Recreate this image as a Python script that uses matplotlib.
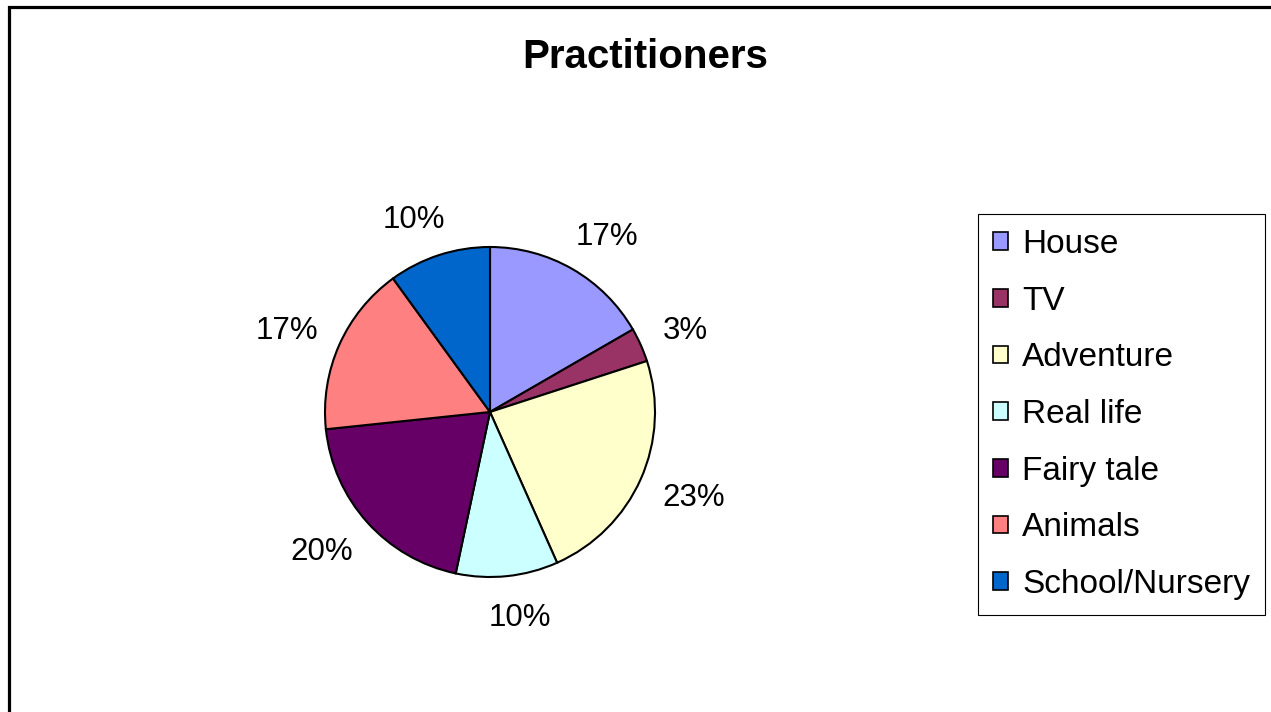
import numpy as np
import matplotlib
matplotlib.use('Agg')
import matplotlib.pyplot as plt
import matplotlib.patches as mpatches

plt.rcParams['font.family'] = ['Liberation Sans', 'DejaVu Sans']

# answers per story theme (30 practitioners)
themes = ['House', 'TV', 'Adventure', 'Real life', 'Fairy tale', 'Animals', 'School/Nursery']
counts = [5, 1, 7, 3, 6, 5, 3]
colours = ['#9999FF', '#993366', '#FFFFCC', '#CCFFFF', '#660066', '#FF8080', '#0066CC']

W, H = 1271, 712
fig = plt.figure(figsize=(W / 100, H / 100), dpi=100)

# outer chart frame
frame = mpatches.Rectangle((9 / W, -0.1), 1.2, 1 - 7 / H + 0.1, transform=fig.transFigure,
                           fill=False, edgecolor='black', linewidth=2.3, clip_on=False)
fig.patches.append(frame)

fig.text(645 / W, 1 - 68 / H, 'Practitioners', ha='center', va='baseline',
         fontsize=29, fontweight='bold')

r = 165
cx, cy = 490, 412
ax = fig.add_axes([(cx - r) / W, (H - cy - r) / H, 2 * r / W, 2 * r / H])
wedges, texts, autotexts = ax.pie(counts, colors=colours, startangle=90, counterclock=False,
                                  autopct='%1.0f%%', pctdistance=1.2,
                                  wedgeprops=dict(edgecolor='black', linewidth=1.5),
                                  textprops=dict(fontsize=22.5))
ax.set_xlim(-1, 1)
ax.set_ylim(-1, 1)
ax.set_aspect('equal')
ax.axis('off')

# push each percentage out so its box sits just beyond the rim
renderer = fig.canvas.get_renderer()
gap = 190 / r
for w, t in zip(wedges, autotexts):
    ang = np.deg2rad((w.theta1 + w.theta2) / 2)
    c, s = np.cos(ang), np.sin(ang)
    bb = t.get_window_extent(renderer)
    tw, th = bb.width / r, bb.height / r
    t.set_position((gap * c + tw / 2 * np.sign(c) * np.sqrt(abs(c)),
                    gap * s + th / 2 * s - 2.5 / r))
    t.set_ha('center')
    t.set_va('center')

leg = fig.legend(wedges, themes, loc='upper left',
                 bbox_to_anchor=(978 / W, 1 - 214 / H), fontsize=24,
                 frameon=True, fancybox=False, edgecolor='black', framealpha=1,
                 handlelength=0.45, handleheight=0.45, handletextpad=0.42,
                 labelspacing=0.77, borderpad=0.45, borderaxespad=0)
leg.get_frame().set_linewidth(0.8)
for h in leg.legend_handles:
    h.set_linewidth(1.2)

fig.savefig('out.png', dpi=100)
